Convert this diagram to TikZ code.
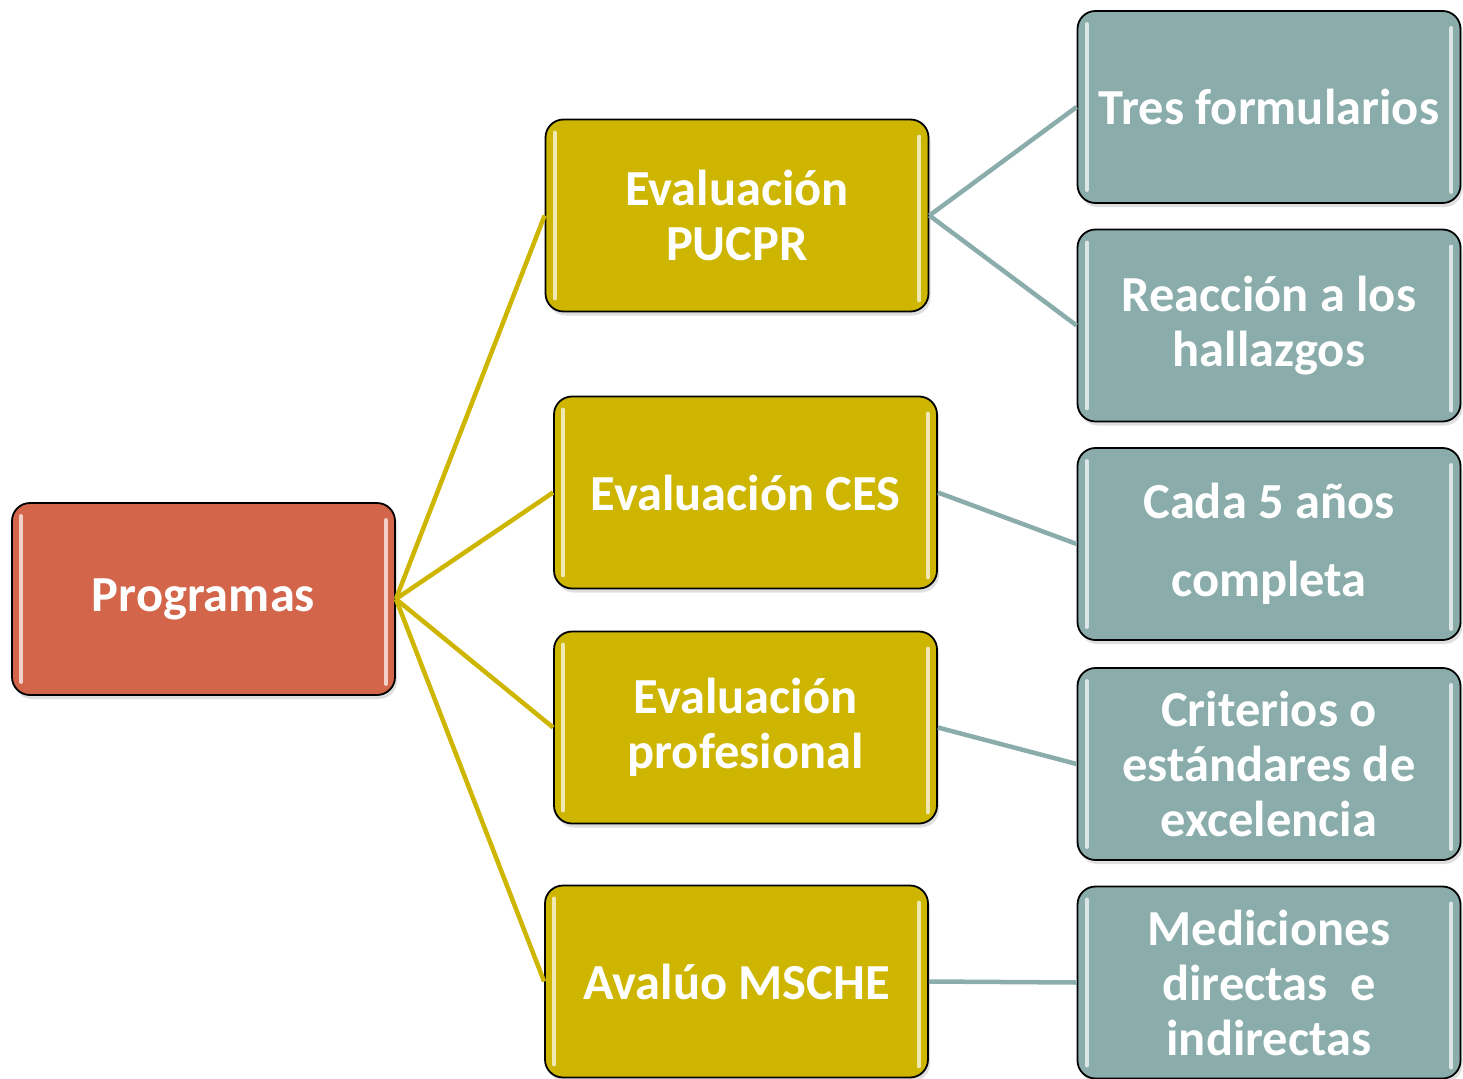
\documentclass[tikz,border=0pt]{standalone}
\usepackage{fontspec}
\setmainfont{Carlito}
\usetikzlibrary{shadows}
\definecolor{cred}{HTML}{D2654A}
\definecolor{cyel}{HTML}{CDB500}
\definecolor{cteal}{HTML}{8AADAC}
\tikzset{
  box/.style={draw=black, line width=1.8pt, rounded corners=18pt,
    minimum width=383pt, minimum height=192pt, inner sep=0pt,
    text=white, align=center, font=\fontsize{50.5}{55}\selectfont\bfseries,
    drop shadow={opacity=0.25, shadow xshift=2pt, shadow yshift=-4pt}},
  rootbox/.style={box, fill=cred},
  midbox/.style={box, fill=cyel},
  leafbox/.style={box, fill=cteal},
  hl/.style={line width=4pt, line cap=round, draw=white, opacity=0.7},
  yedge/.style={draw=cyel, line width=4.5pt},
  tedge/.style={draw=cteal, line width=4.5pt},
}
\begin{document}
\begin{tikzpicture}[x=1pt,y=-1pt]
\useasboundingbox (0,0) rectangle (1463,1078);
\clip (0,0) rectangle (1463,1078);
\node[rootbox] (prog) at (203.5,599) {Programas};
\node[midbox] (pucpr) at (737,215.5) {Evaluación\\PUCPR};
\node[midbox] (ces) at (745.5,492.5) {Evaluación CES};
\node[midbox] (prof) at (745.5,727.5) {Evaluación\\profesional};
\node[midbox] (msche) at (736.5,981.5) {Avalúo MSCHE};
\node[leafbox] (tres) at (1269,107) {Tres formularios};
\node[leafbox] (reac) at (1269,325.5) {Reacción a los\\hallazgos};
\node[leafbox] (cada) at (1269,544) {Cada 5 años\\[23pt]completa};
\node[leafbox] (crit) at (1269,764) {Criterios o\\estándares de\\excelencia};
\node[leafbox] (medi) at (1269,982.5) {Mediciones\\directas\ \ e\\indirectas};
\foreach \n in {prog,pucpr,ces,prof,msche,tres,reac,cada,crit,medi}{
  \draw[hl] ([xshift=10pt,yshift=-14pt]\n.north west) -- ([xshift=10pt,yshift=14pt]\n.south west);
  \draw[hl] ([xshift=-10pt,yshift=-18pt]\n.north east) -- ([xshift=-10pt,yshift=12pt]\n.south east);
}
\draw[yedge] (prog.east) -- (pucpr.west);
\draw[yedge] (prog.east) -- (ces.west);
\draw[yedge] (prog.east) -- (prof.west);
\draw[yedge] (prog.east) -- (msche.west);
\draw[tedge] (pucpr.east) -- (tres.west);
\draw[tedge] (pucpr.east) -- (reac.west);
\draw[tedge] (ces.east) -- (cada.west);
\draw[tedge] (prof.east) -- (crit.west);
\draw[tedge] (msche.east) -- (medi.west);
\end{tikzpicture}
\end{document}
